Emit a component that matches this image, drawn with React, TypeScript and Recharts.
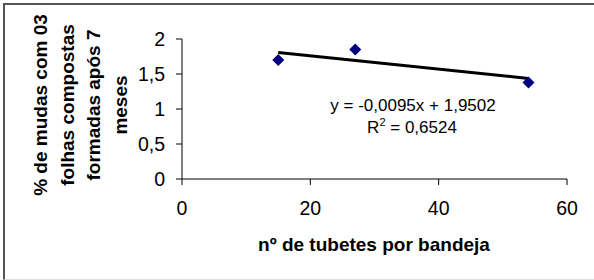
import React from 'react';
import { ScatterChart, Scatter, XAxis, YAxis, Label, Customized } from 'recharts';

// valores
const tubetes = [15, 27, 54];
const mudas = [1.7, 1.85, 1.38];
const slope = -0.0095;
const intercept = 1.9502;
const r2 = 0.6524;
const xTicks = [0, 20, 40, 60];
const yTicks = [0, 0.5, 1, 1.5, 2];
const yTitleLines = ['% de mudas com 03', 'folhas compostas', 'formadas após 7', 'meses'];
const xTitle = 'nº de tubetes por bandeja';

const points = tubetes.map((x, i) => ({ x, y: mudas[i] }));
const minX = Math.min(...tubetes);
const maxX = Math.max(...tubetes);
const trend = [minX, maxX].map(x => ({ x, y: slope * x + intercept }));

const fmt = (v: number) => String(v).replace('.', ',');
const FONT = '"Liberation Sans", Arial, sans-serif';

const Diamond = (props: any) => {
  const { cx, cy } = props;
  const r = 6;
  return (
    <polygon
      points={`${cx},${cy - r} ${cx + r},${cy} ${cx},${cy + r} ${cx - r},${cy}`}
      fill="#000080"
    />
  );
};

const YTitle = () => (
  <g>
    {yTitleLines.map((line, i) => {
      const x = 47 + i * 26.6;
      return (
        <text
          key={line}
          x={x}
          y={105}
          transform={`rotate(-90, ${x}, 105)`}
          textAnchor="middle"
          fontFamily={FONT}
          fontWeight="bold"
          fontSize={19}
          fill="#000"
        >
          {line}
        </text>
      );
    })}
  </g>
);

const XTitle = () => (
  <text x={374} y={251} textAnchor="middle" fontFamily={FONT} fontWeight="bold" fontSize={19} fill="#000">
    {xTitle}
  </text>
);

const Equation = () => (
  <g fontFamily={FONT} fontSize={17} fill="#000">
    <text x={413} y={111} textAnchor="middle">
      {`y = ${fmt(slope)}x + ${fmt(intercept)}`}
    </text>
    <text x={412} y={133} textAnchor="middle">
      R<tspan dy={-7} fontSize={11}>2</tspan>
      <tspan dy={7}>{` = ${fmt(r2)}`}</tspan>
    </text>
  </g>
);

const App: React.FC = () => {
  return (
    <div style={{ position: 'absolute', left: 0, top: 0, width: 594, height: 280, overflow: 'hidden', background: '#fff' }}>
      <div
        style={{
          position: 'absolute',
          left: 3,
          top: 3,
          width: 620,
          height: 274,
          borderLeft: '2px solid #555',
          borderTop: '2px solid #555',
          borderBottom: '1px solid #ddd',
        }}
      />
      <div style={{ position: 'absolute', left: 0, top: 0 }}>
        <ScatterChart width={594} height={280} margin={{ top: 39, right: 27, bottom: 21, left: 42 }}>
          <XAxis
            type="number"
            dataKey="x"
            domain={[0, 60]}
            ticks={xTicks}
            height={80}
            tickSize={6}
            tickMargin={16}
            stroke="#000"
            tick={{ fill: '#000', fontSize: 19.5, fontFamily: FONT }}
          >
            <Label content={<XTitle />} />
          </XAxis>
          <YAxis
            type="number"
            dataKey="y"
            domain={[0, 2]}
            ticks={yTicks}
            width={140}
            tickSize={6}
            tickMargin={11}
            stroke="#000"
            tickFormatter={fmt}
            tick={{ fill: '#000', fontSize: 19.5, fontFamily: FONT }}
          >
            <Label content={<YTitle />} />
          </YAxis>
          <Scatter data={trend} line={{ stroke: '#000', strokeWidth: 3 }} shape={() => null} isAnimationActive={false} />
          <Scatter data={points} shape={<Diamond />} isAnimationActive={false} />
          <Customized component={<Equation />} />
        </ScatterChart>
      </div>
    </div>
  );
};

export default App;
